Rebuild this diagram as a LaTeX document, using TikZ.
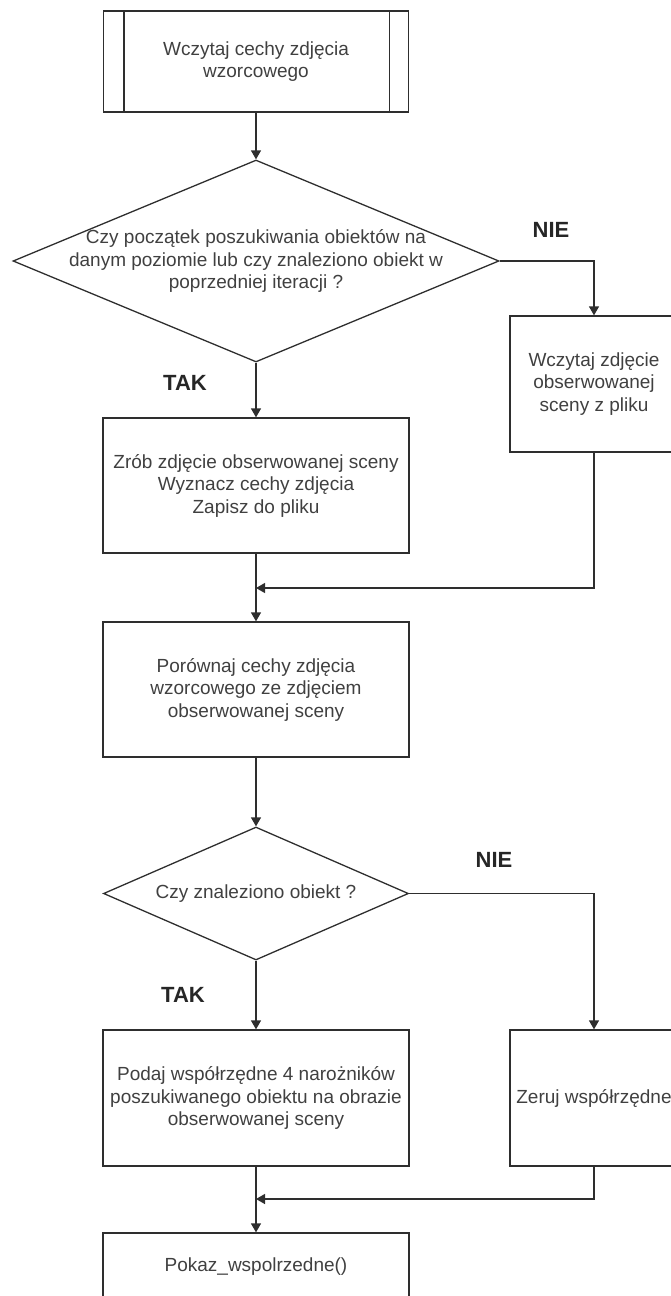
\documentclass[tikz,border=0pt]{standalone}
\usepackage{fontspec}
\setmainfont{Liberation Sans}
\usepackage{xcolor}
\definecolor{linegray}{rgb}{0.18,0.18,0.18}
\definecolor{textgray}{rgb}{0.25,0.25,0.25}
\usetikzlibrary{shapes.geometric,arrows.meta}

\begin{document}
\begin{tikzpicture}[x=1pt, y=-1pt,
  every node/.style={font=\fontsize{19}{22.5}\selectfont, text=textgray},
  proc/.style={draw=linegray, line width=1.3pt, rectangle, inner sep=0pt, align=center},
  decision/.style={draw=linegray, line width=1.3pt, diamond, inner sep=0pt},
  answer/.style={font=\fontsize{22}{26}\selectfont\bfseries, text=black!85},
  flow/.style={draw=linegray, line width=1.3pt, -{Triangle[length=9pt,width=10pt]}}]
  % Frame
  \useasboundingbox (0,0) rectangle (671,1296);
  \clip (0,0) rectangle (671,1296);

  % Reference features
  \node[proc, minimum width=305pt, minimum height=101pt] (load) at (256,61.5) {Wczytaj cechy zdjęcia\\wzorcowego};
  \draw[linegray, line width=1.3pt] ([xshift=21pt]load.north west) -- ([xshift=21pt]load.south west);
  \draw[linegray, line width=1.3pt] ([xshift=-20pt]load.north east) -- ([xshift=-20pt]load.south east);

  % First question
  \node[decision, minimum width=486pt, minimum height=202pt] (start) at (256,261) {};
  \node[align=center] (starttxt) at (start) {Czy początek poszukiwania obiektów na\\danym poziomie lub czy znaleziono obiekt w\\poprzedniej iteracji ?};
  \node[answer] (no1) at (551,230) {NIE};
  \node[answer] (yes1) at (185,383) {TAK};

  % Scene
  \node[proc, minimum width=168pt, minimum height=136pt] (file) at (594,384) {Wczytaj zdjęcie\\obserwowanej\\sceny z pliku};
  \node[proc, minimum width=306pt, minimum height=135pt] (shot) at (256,485.5) {Zrób zdjęcie obserwowanej sceny\\Wyznacz cechy zdjęcia\\Zapisz do pliku};
  \coordinate (join1) at (256,588);

  % Compare
  \node[proc, minimum width=306pt, minimum height=135pt] (compare) at (256,689.5) {Porównaj cechy zdjęcia\\wzorcowego ze zdjęciem\\obserwowanej sceny};

  % Second question
  \node[decision, minimum width=305pt, minimum height=133pt] (found) at (256,893.5) {};
  \node (foundtxt) at (found) {Czy znaleziono obiekt ?};
  \node[answer] (no2) at (494,860) {NIE};
  \node[answer] (yes2) at (183,995) {TAK};

  % Result
  \node[proc, minimum width=306pt, minimum height=136pt] (corners) at (256,1098) {Podaj współrzędne 4 narożników\\poszukiwanego obiektu na obrazie\\obserwowanej sceny};
  \node[proc, minimum width=168pt, minimum height=136pt] (reset) at (594,1098) {Zeruj współrzędne};
  \coordinate (join2) at (256,1199);
  \node[proc, minimum width=306pt, minimum height=68pt] (show) at (256,1267) {Pokaz\_wspolrzedne()};

  % Flow
  \draw[flow] (load) -- (start);
  \draw[flow] (start.east) -| (file.north);
  \draw[flow] (start) -- (shot);
  \draw[flow] (shot) -- (compare);
  \draw[flow] (file.south) |- (join1);
  \draw[flow] (compare) -- (found);
  \draw[flow] (found.east) -| (reset.north);
  \draw[flow] (found) -- (corners);
  \draw[flow] (corners) -- (show);
  \draw[flow] (reset.south) |- (join2);
\end{tikzpicture}
\end{document}
